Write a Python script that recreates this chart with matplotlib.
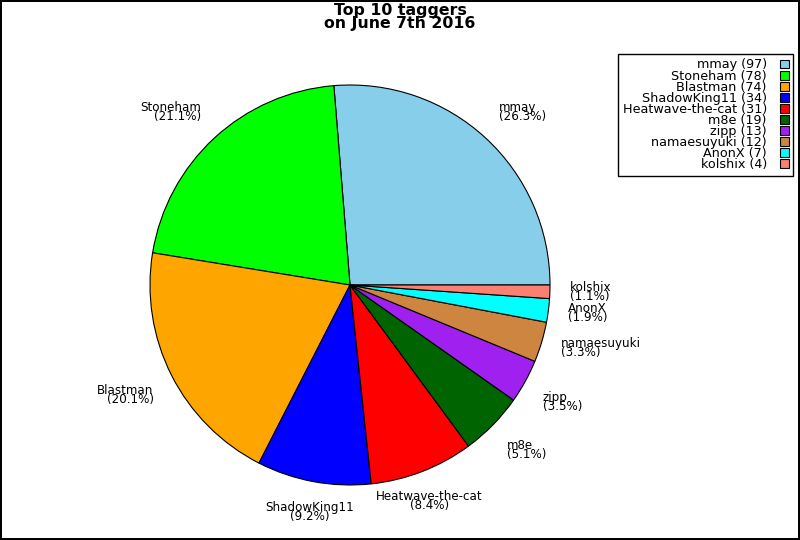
import numpy as np
import matplotlib
matplotlib.use('Agg')
import matplotlib.pyplot as plt
from matplotlib.patches import Rectangle

# data
names = ['mmay', 'Stoneham', 'Blastman', 'ShadowKing11', 'Heatwave-the-cat',
         'm8e', 'zipp', 'namaesuyuki', 'AnonX', 'kolshix']
counts = [97, 78, 74, 34, 31, 19, 13, 12, 7, 4]
colors = ['#87ceeb', '#00ff00', '#ffa500', '#0000ff', '#ff0000',
          '#006400', '#a020f0', '#cd853f', '#00ffff', '#fa8072']
title = 'Top 10 taggers\non June 7th 2016'

total = float(sum(counts))
pcts = [100.0 * c / total for c in counts]

fig = plt.figure(figsize=(8, 5.4), dpi=100)
fig.patch.set_edgecolor('black')
fig.patch.set_linewidth(1.5)

ax = fig.add_axes([150 / 800., 55 / 540., 400 / 800., 400 / 540.])
wedges, _ = ax.pie(counts, colors=colors, startangle=0, counterclock=True,
                   radius=1.0, wedgeprops=dict(edgecolor='black', linewidth=0.8))
ax.set_xlim(-1, 1)
ax.set_ylim(-1, 1)
ax.axis('off')

# slice labels
for w, name, p in zip(wedges, names, pcts):
    ang = np.deg2rad(0.5 * (w.theta1 + w.theta2))
    c, s = np.cos(ang), np.sin(ang)
    if abs(c) < 0.4:
        ha = 'center'
    elif c > 0:
        ha = 'left'
    else:
        ha = 'right'
    if abs(s) < 0.35:
        va = 'center'
    elif s > 0:
        va = 'bottom'
    else:
        va = 'top'
    ax.text(1.1 * c, 1.1 * s, '%s\n(%.1f%%)' % (name, p), ha=ha, va=va,
            multialignment=ha, fontsize=8.6, linespacing=0.6)

fig.suptitle(title, x=0.5, y=0.995, fontsize=11.3, fontweight='bold',
             linespacing=0.85, va='top')

handles = [Rectangle((0, 0), 1, 1, facecolor=col, edgecolor='black', linewidth=0.8)
           for col in colors]
leg_labels = ['%s (%d)' % (n, c) for n, c in zip(names, counts)]
leg = fig.legend(handles, leg_labels, loc='upper right',
                 bbox_to_anchor=(793 / 800., 1 - 54 / 540.), borderaxespad=0,
                 markerfirst=False, fontsize=9.2, labelspacing=-0.15,
                 handlelength=0.7, handleheight=0.7, handletextpad=1.0,
                 borderpad=0.35, fancybox=False, framealpha=1, edgecolor='black')
leg.get_frame().set_linewidth(1.0)
for t in leg.get_texts():
    t.set_ha('right')

fig.savefig('out.png', dpi=100, edgecolor=fig.get_edgecolor())
